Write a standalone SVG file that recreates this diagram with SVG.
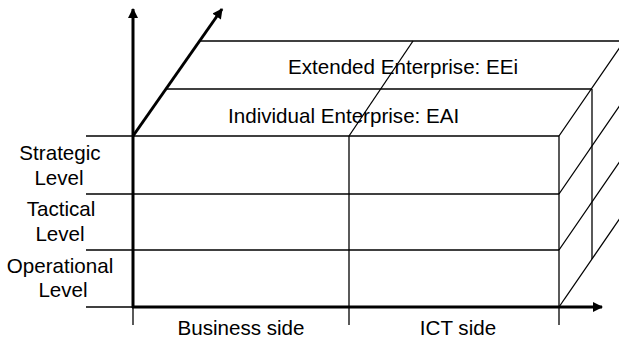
<svg xmlns="http://www.w3.org/2000/svg" width="619" height="341" viewBox="0 0 619 341">
<defs>
<style>
.thin{stroke:#000;stroke-width:1.3;fill:none}
.axis{stroke:#000;stroke-width:3;fill:none}
.t{font-family:"Liberation Sans",Arial,sans-serif;font-size:20.6px;fill:#000}
.m{text-anchor:middle}
</style>
<marker id="ah" viewBox="0 0 10 10" refX="9" refY="5" markerWidth="3.6" markerHeight="3.4" orient="auto" markerUnits="strokeWidth">
<path d="M0,0 L10,5 L0,10 z" fill="#000"/>
</marker>
</defs>
<rect width="619" height="341" fill="#fff"/>
<g id="box">
<line class="thin" x1="200" y1="41" x2="619" y2="41"/>
<line class="thin" x1="166" y1="89" x2="592" y2="89"/>
<line class="thin" x1="86" y1="136" x2="559" y2="136"/>
<line class="thin" x1="86" y1="194" x2="559" y2="194"/>
<line class="thin" x1="86" y1="250" x2="559" y2="250"/>
<line class="thin" x1="86" y1="307" x2="133" y2="307"/>
<line class="thin" x1="133" y1="307" x2="133" y2="325"/>
<line class="thin" x1="349" y1="136" x2="349" y2="325"/>
<line class="thin" x1="349" y1="136" x2="413" y2="41"/>
<line class="thin" x1="559" y1="136" x2="559" y2="325"/>
<line class="thin" x1="592" y1="89" x2="592" y2="259"/>
<line class="thin" x1="559" y1="136" x2="625" y2="40"/>
<line class="thin" x1="559" y1="194" x2="625" y2="98"/>
<line class="thin" x1="559" y1="250" x2="625" y2="154"/>
<line class="thin" x1="559" y1="307" x2="625" y2="211"/>
</g>
<g id="axes">
<line class="axis" x1="133" y1="308" x2="133" y2="9" marker-end="url(#ah)"/>
<line class="axis" x1="132" y1="307" x2="602" y2="307" marker-end="url(#ah)"/>
<line class="axis" x1="133" y1="136" x2="222" y2="9" marker-end="url(#ah)"/>
</g>
<g id="labels">
<text class="t" x="288" y="74">Extended Enterprise: EEi</text>
<text class="t" x="228" y="123">Individual Enterprise: EAI</text>
<text class="t m" x="60" y="160">Strategic</text>
<text class="t m" x="59" y="185">Level</text>
<text class="t m" x="61" y="216">Tactical</text>
<text class="t m" x="60" y="241">Level</text>
<text class="t m" x="60" y="273">Operational</text>
<text class="t m" x="63" y="297">Level</text>
<text class="t m" x="241" y="335">Business side</text>
<text class="t m" x="458" y="335">ICT side</text>
</g>
</svg>
